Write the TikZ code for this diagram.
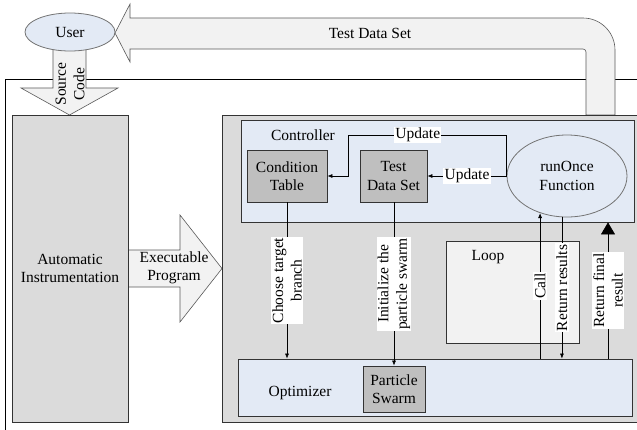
\documentclass[tikz,border=0pt]{standalone}
\usepackage{fontspec}
\setmainfont{Liberation Serif}
\usepackage{tikz}
\usetikzlibrary{positioning,arrows.meta,shapes.geometric,calc}

\definecolor{panelgray}{HTML}{DBDBDB}
\definecolor{boxgray}{HTML}{BFBFBF}
\definecolor{paleblue}{HTML}{E3EAF5}
\definecolor{arrowfill}{HTML}{F2F2F2}

\tikzset{
  panel/.style={draw=black!80, fill=panelgray, line width=0.8pt, align=center},
  region/.style={draw=black!80, fill=paleblue, line width=0.8pt},
  graybox/.style={draw=black!80, fill=boxgray, line width=0.8pt, align=center, inner sep=0pt},
  oval/.style={ellipse, draw=black!55, fill=paleblue, line width=0.8pt, align=center, inner sep=0pt},
  fatarrow/.style={draw=black!65, fill=arrowfill, line width=0.6pt},
  tag/.style={fill=white, inner sep=1.2pt, align=center},
  flow/.style={-{Latex[length=5pt,width=4pt]}, line width=0.6pt},
}

\begin{document}
\begin{tikzpicture}[x=1pt,y=-1pt,font=\fontsize{15.5}{18.5}\selectfont]
  \useasboundingbox (0,0) rectangle (637,429);

  % frame round the tool
  \draw[line width=0.8pt] (640,79) -- (5,79) -- (5,432);

  % big arrows
  \draw[fatarrow] (615,115) -- (615,50) to[out=90,in=0] (583,18) -- (130,18) -- (130,4)
    -- (115,33) -- (130,62) -- (130,49) -- (583,49) to[out=0,in=90] (586,52) -- (586,115) -- cycle;
  \node (tdsarrow) at (370,33) {Test Data Set};
  \draw[fatarrow] (53,45) -- (53,88) -- (21,88) -- (69.5,115) -- (118,88) -- (86,88) -- (86,45) -- cycle;
  \node[rotate=90, align=center] (srccode) at (70,84) {Source\\Code};
  \draw[fatarrow] (128,250) -- (180,250) -- (180,215) -- (222,268.5) -- (180,322) -- (180,287) -- (128,287) -- cycle;
  \node[align=center] (exeprog) at (174,268) {Executable\\Program};

  \node[oval, minimum width=90pt, minimum height=38pt] (user) at (70,32) {User};

  % instrumentation
  \node[panel, minimum width=116pt, minimum height=307pt] (instr) at (70,268.5) {Automatic\\Instrumentation};

  % search engine
  \node[panel, anchor=north west, minimum width=440pt, minimum height=307pt] (engine) at (222,115) {};
  \node[region, minimum width=393pt, minimum height=102pt] (ctrl) at (437.5,171) {};
  \node (ctrltxt) at (303,135) {Controller};
  \node[graybox, minimum width=80pt, minimum height=52pt] (ct) at (287,176) {Condition\\Table};
  \node[graybox, minimum width=67pt, minimum height=52pt] (tds) at (393.5,176) {Test\\Data Set};
  \node[oval, minimum width=120pt, minimum height=82pt] (run) at (567,176) {runOnce\\Function};

  \node[draw=black!80, fill=arrowfill, line width=0.8pt, minimum width=133pt, minimum height=102pt] (loop) at (512.5,292) {};
  \node (looptxt) at (488,257) {Loop};

  \node[region, minimum width=394pt, minimum height=57pt] (opt) at (435,387.5) {};
  \node (opttxt) at (300,393) {Optimizer};
  \node[graybox, minimum width=62pt, minimum height=46pt] (swarm) at (394,389) {Particle\\Swarm};

  % updates from runOnce
  \draw[flow] (run.west) -- node[tag] {Update} (tds.east);
  \draw[flow] (run.west) |- node[tag, pos=0.78] {Update} (348,135) |- (ct.east);

  % controller to optimizer
  \draw[flow] (ct.south) -- node[tag, rotate=90] {Choose target\\branch} (ct.south |- opt.north);
  \draw[flow] (tds.south -| swarm.north) -- node[tag, rotate=90] {Initialize the\\particle swarm} (swarm.north);

  % loop between optimizer and runOnce
  \draw[flow] (run.234 |- opt.north) -- node[tag, rotate=90] {Call} (run.234);
  \draw[flow] (run.263) -- node[tag, rotate=90] {Return results} (run.263 |- opt.north);

  \coordinate (finfoot) at (608,359);
  \draw[-{Triangle[length=12pt,width=14pt]}, line width=0.6pt] (finfoot) -- node[tag, rotate=90] {Return final\\result} (finfoot |- ctrl.south);
\end{tikzpicture}
\end{document}
